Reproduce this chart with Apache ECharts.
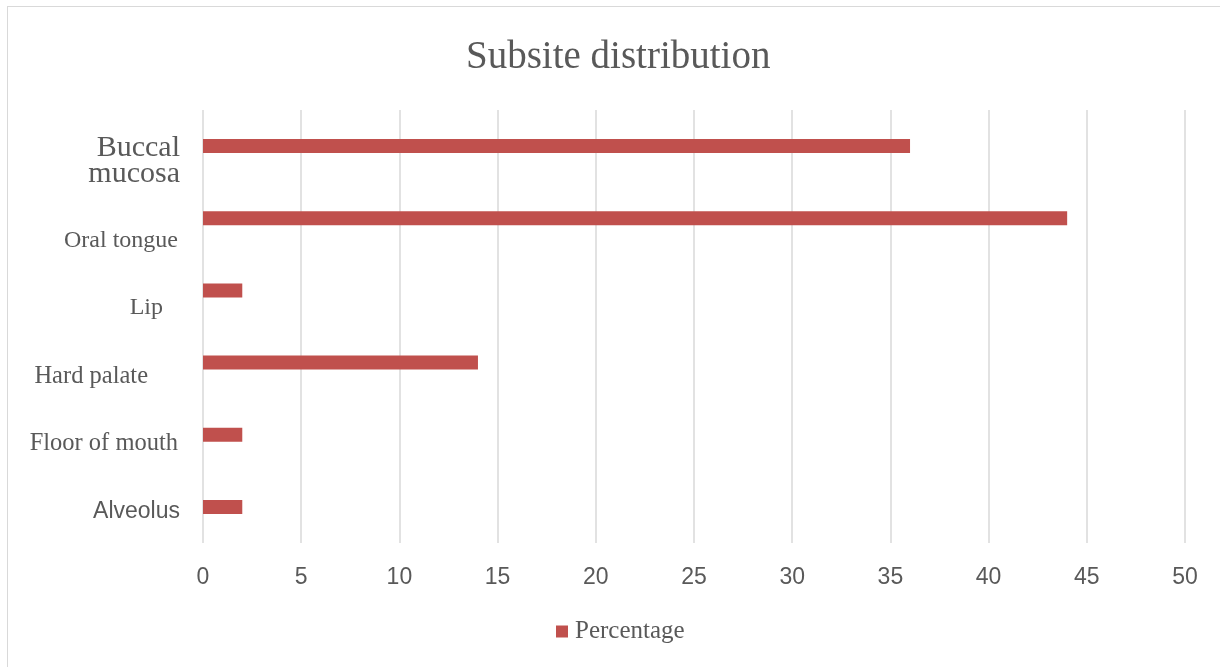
<!DOCTYPE html>
<html>
<head>
<meta charset="utf-8">
<script src="https://cdn.jsdelivr.net/npm/echarts@6/dist/echarts.min.js"></script>
<style>
  html, body { margin: 0; padding: 0; background: #fff; }
  #wrap { position: relative; width: 1220px; height: 667px; overflow: hidden; }
  #border { position: absolute; left: 7px; top: 6px; width: 1300px; height: 700px;
            border-left: 1.5px solid #d9d9d9; border-top: 1.5px solid #d9d9d9; pointer-events: none; }
  #chart { position: absolute; left: 0; top: 0; width: 1220px; height: 667px; }
</style>
</head>
<body>
<div id="wrap">
  <div id="chart"></div>
  <div id="border"></div>
</div>
<script>
const categories = ['Buccal mucosa', 'Oral tongue', 'Lip', 'Hard palate', 'Floor of mouth', 'Alveolus'];
const percentage = [36, 44, 2, 14, 2, 2];
const xTicks = { min: 0, max: 50, interval: 5 };
const titleText = 'Subsite distribution';
const seriesName = 'Percentage';

const SERIF = "'Liberation Serif', 'Times New Roman', serif";
const SANS = "'Liberation Sans', Arial, sans-serif";
const GREY = '#595959';

// per-label styling keys (visual offsets only)
const labelKeys = ['buccal', 'oral', 'lip', 'hard', 'floor', 'alv'];

const chart = echarts.init(document.getElementById('chart'), null, { renderer: 'canvas' });
chart.setOption({
  animation: false,
  backgroundColor: '#fff',
  title: {
    text: titleText,
    left: 461,
    top: 33,
    textStyle: { fontFamily: SERIF, fontSize: 39, fontWeight: 'normal', color: GREY }
  },
  legend: {
    data: [seriesName],
    left: 556,
    top: 619,
    padding: 0,
    icon: 'rect',
    itemWidth: 12,
    itemHeight: 12,
    itemGap: 10,
    textStyle: { fontFamily: SERIF, fontSize: 25, color: GREY, padding: [0, 0, 0, 2] }
  },
  grid: { left: 203, right: 35, top: 110, bottom: 124, containLabel: false },
  xAxis: {
    type: 'value',
    min: xTicks.min,
    max: xTicks.max,
    interval: xTicks.interval,
    axisLine: { show: false },
    axisTick: { show: false },
    splitLine: { show: true, lineStyle: { color: '#d9d9d9', width: 1.5 } },
    axisLabel: { fontFamily: SANS, fontSize: 23, color: GREY, margin: 23 }
  },
  yAxis: {
    type: 'category',
    data: categories,
    inverse: true,
    axisLine: { show: false },
    axisTick: { show: false },
    splitLine: { show: false },
    axisLabel: {
      margin: 23,
      formatter: function (v, i) {
        const k = labelKeys[i];
        const lines = (k === 'buccal') ? v.split(' ') : [v];
        return '{' + k + 'S| }\n' + lines.map(function (t) { return '{' + k + '|' + t + '}'; }).join('\n');
      },
      rich: {
        buccalS: { lineHeight: 30, fontSize: 2 },
        buccal: { fontFamily: SERIF, fontSize: 30, lineHeight: 26, color: GREY, align: 'right' },
        oralS: { lineHeight: 44, fontSize: 2 },
        oral: { fontFamily: SERIF, fontSize: 24, lineHeight: 26, color: GREY, padding: [0, 2, 0, 0] },
        lipS: { lineHeight: 35, fontSize: 2 },
        lip: { fontFamily: SERIF, fontSize: 24, lineHeight: 26, color: GREY, padding: [0, 17, 0, 0] },
        hardS: { lineHeight: 28, fontSize: 2 },
        hard: { fontFamily: SERIF, fontSize: 24.5, lineHeight: 26, color: GREY, padding: [0, 32, 0, 0] },
        floorS: { lineHeight: 17, fontSize: 2 },
        floor: { fontFamily: SERIF, fontSize: 24.5, lineHeight: 26, color: GREY, padding: [0, 2, 0, 0] },
        alvS: { lineHeight: 10, fontSize: 2 },
        alv: { fontFamily: SANS, fontSize: 23, lineHeight: 26, color: GREY }
      }
    }
  },
  series: [{
    name: seriesName,
    type: 'bar',
    data: percentage,
    barWidth: 14,
    itemStyle: { color: '#C0504D' }
  }]
});
</script>
</body>
</html>
